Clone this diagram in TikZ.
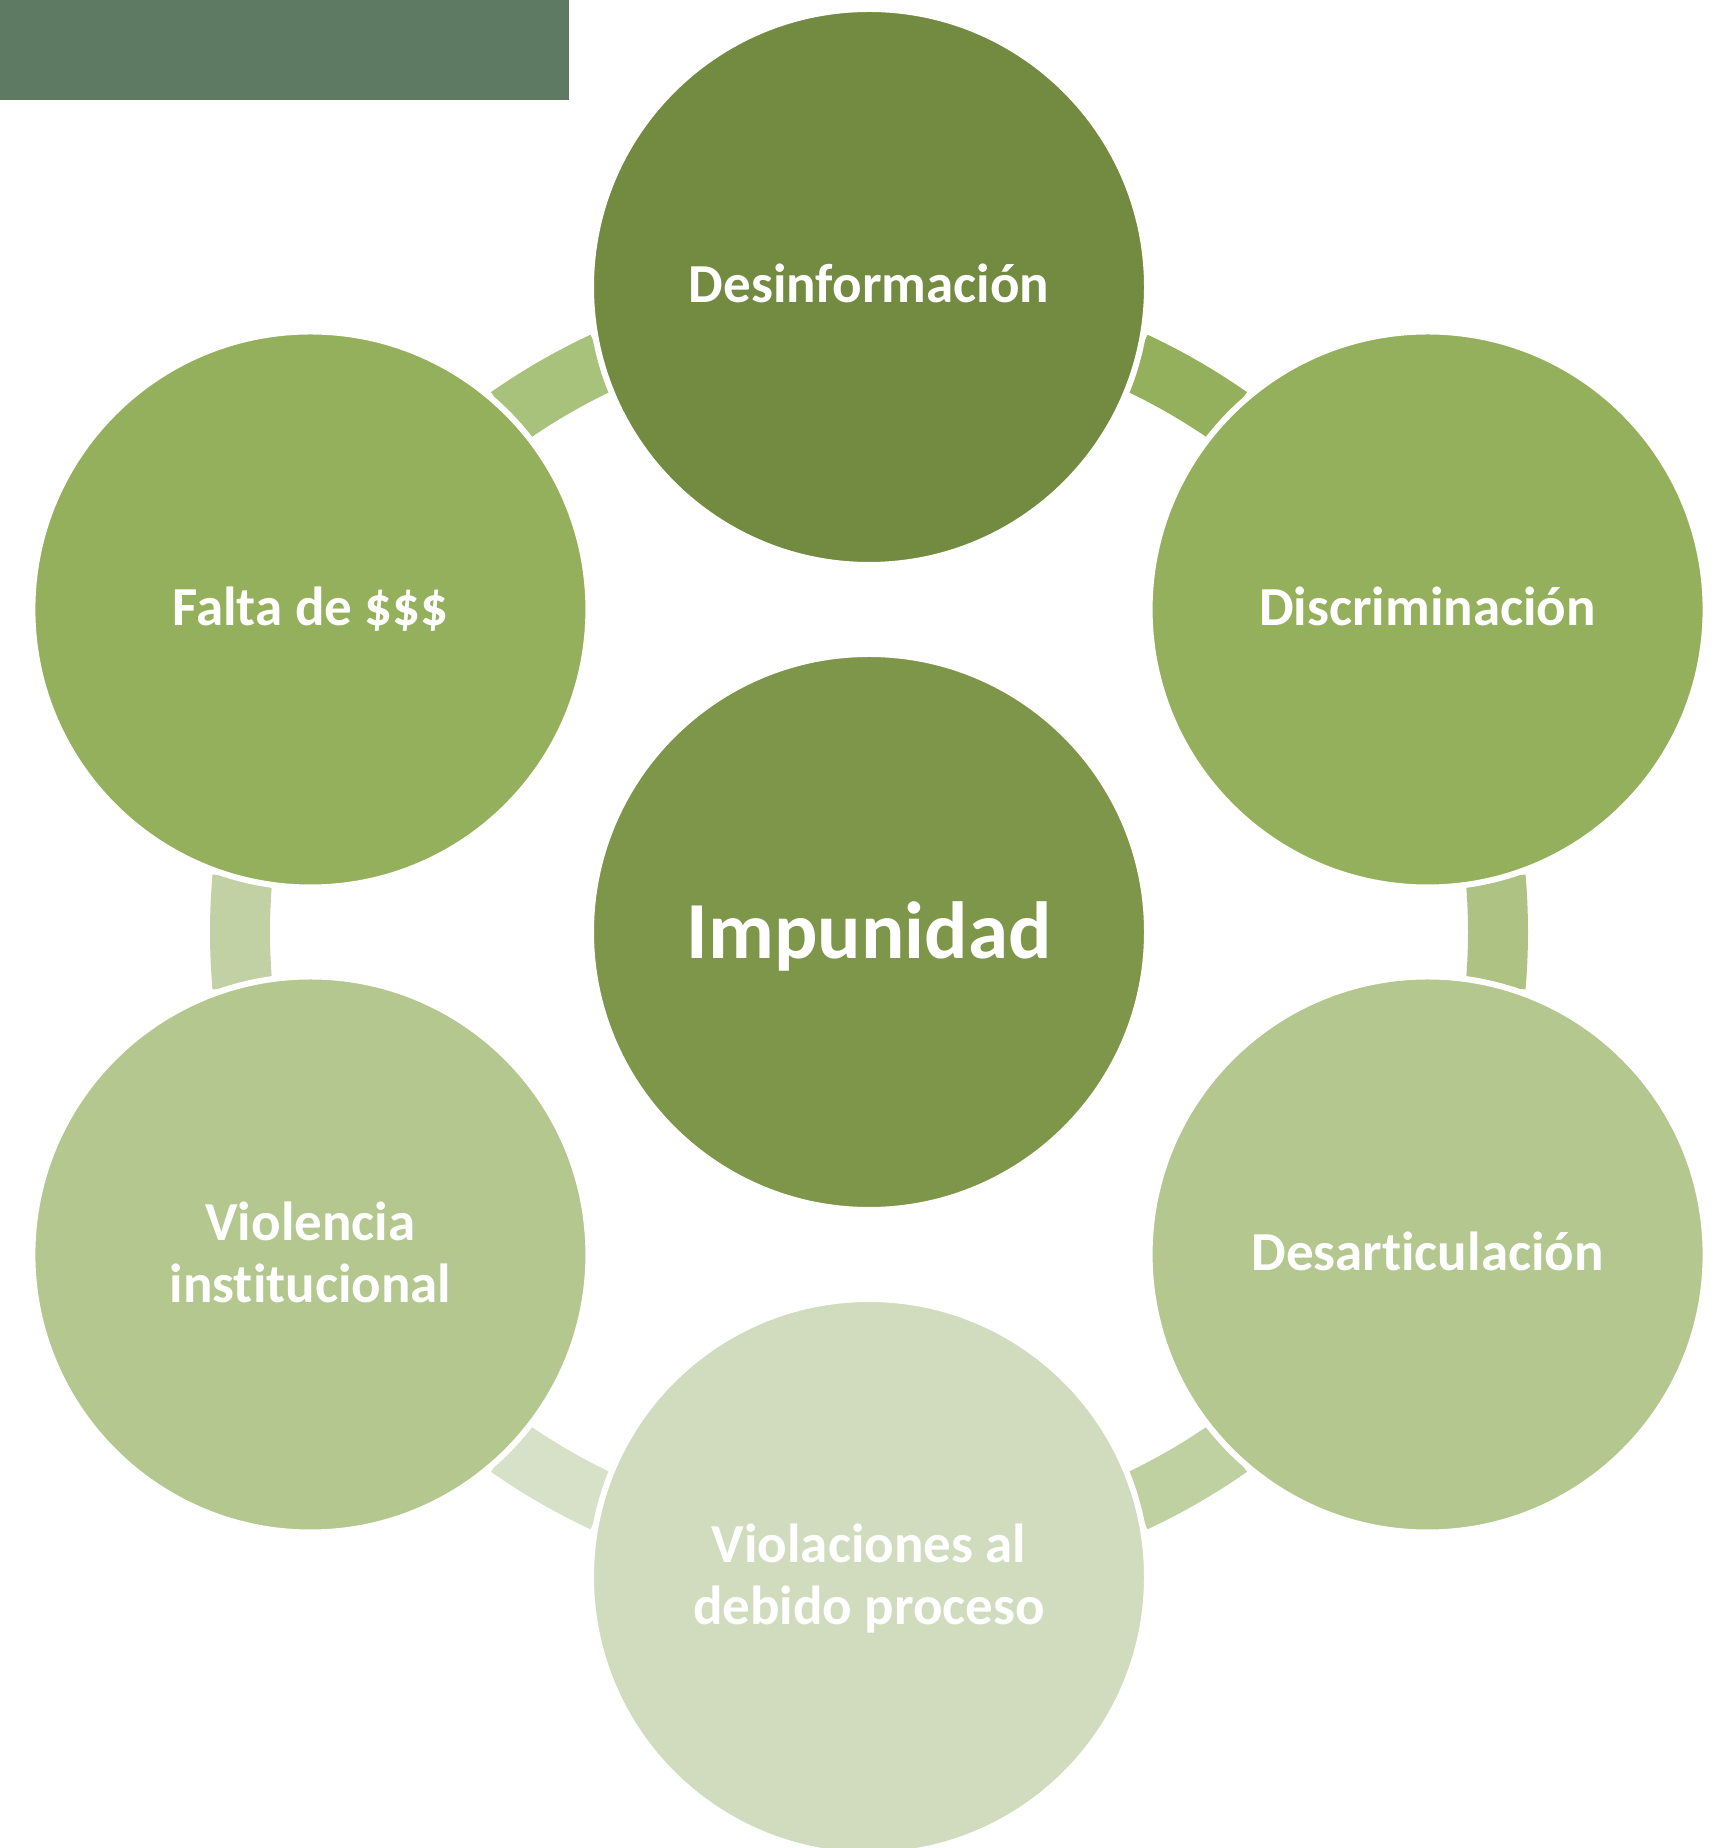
\documentclass[tikz,border=0pt]{standalone}
\usepackage{fontspec}
\setmainfont{Carlito}[Ligatures=NoCommon]
\definecolor{cRect}{HTML}{5E7A63}
\definecolor{cTop}{HTML}{738A41}
\definecolor{cCtr}{HTML}{7E9649}
\definecolor{cUp}{HTML}{95B05C}
\definecolor{cLow}{HTML}{B3C78F}
\definecolor{cBot}{HTML}{D0DCBD}
\definecolor{aA}{HTML}{95B05C}
\definecolor{aB}{HTML}{ADC283}
\definecolor{aC}{HTML}{BFD0A1}
\definecolor{aD}{HTML}{D6E1C7}
\definecolor{aE}{HTML}{C1D1A3}
\definecolor{aF}{HTML}{A9C27B}
\newcommand{\ringseg}[3]{%
  \fill[#1, shift={(C)}] (#2:599) arc[start angle=#2, end angle=#3, radius=599]
    -- (#3:659) arc[start angle=#3, end angle=#2, radius=659] -- cycle;}
\begin{document}
\begin{tikzpicture}[x=1pt,y=1pt,
  bubble/.style={circle, minimum size=556pt, inner sep=0pt, draw=white, line width=6pt},
  lbl/.style={text=white, font=\fontsize{55}{62}\selectfont\bfseries, anchor=base, inner sep=0pt},
  bigl/.style={text=white, font=\fontsize{81}{90}\selectfont\bfseries, anchor=base, inner sep=0pt}]
\useasboundingbox (0,0) rectangle (1728,1848);
\coordinate (C) at (869,916);
\node[fill=cRect, minimum width=569pt, minimum height=100pt, inner sep=0pt, anchor=north west] (bar) at (0,1848) {};
% ring segments
\ringseg{aA}{55.0}{65.0}
\ringseg{aB}{-5.0}{5.0}
\ringseg{aC}{-65.0}{-55.0}
\ringseg{aD}{-125.0}{-115.0}
\ringseg{aE}{175.0}{185.0}
\ringseg{aF}{115.0}{125.0}
% circles
\node[bubble, fill=cCtr] (ctr) at (C) {};
\path (C) ++(90:645) node[bubble, fill=cTop] (top) {};
\path (C) ++(30:645) node[bubble, fill=cUp] (ru) {};
\path (C) ++(-30:645) node[bubble, fill=cLow] (rl) {};
\path (C) ++(-90:645) node[bubble, fill=cBot] (bot) {};
\path (C) ++(-150:645) node[bubble, fill=cLow] (ll) {};
\path (C) ++(150:645) node[bubble, fill=cUp] (lu) {};
% labels
\node[bigl] (tCtr) at ([yshift=-27pt]ctr.center) {Impunidad};
\node[lbl] (tTop) at ([yshift=-16pt]top.center) {Desinformación};
\node[lbl] (tRU) at ([yshift=-16pt]ru.center) {Discriminación};
\node[lbl] (tRL) at ([yshift=-16pt]rl.center) {Desarticulación};
\node[lbl] (tLU) at ([yshift=-16pt]lu.center) {Falta de \$\$\$};
\node[lbl] (tLL) at ([yshift=14pt]ll.center) {\begin{tabular}[t]{@{}c@{}}Violencia\\institucional\end{tabular}};
\node[lbl] (tBot) at ([yshift=14pt]bot.center) {\begin{tabular}[t]{@{}c@{}}Violaciones al\\debido proceso\end{tabular}};
\end{tikzpicture}
\end{document}
